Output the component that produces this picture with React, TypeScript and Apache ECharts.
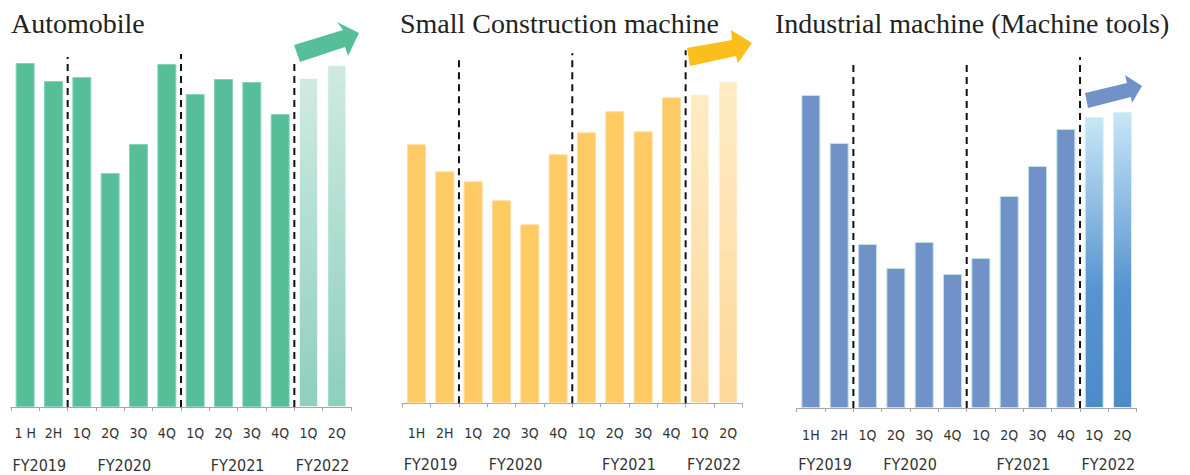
import React, { useEffect, useRef } from "react";
import * as echarts from "echarts";

// ---------- data ----------
const TITLES = ["Automobile", "Small Construction machine", "Industrial machine (Machine tools)"];
const CATS_AUTO = ["1 H", "2H", "1Q", "2Q", "3Q", "4Q", "1Q", "2Q", "3Q", "4Q", "1Q", "2Q"];
const CATS = ["1H", "2H", "1Q", "2Q", "3Q", "4Q", "1Q", "2Q", "3Q", "4Q", "1Q", "2Q"];
const FY_LABELS = ["FY2019", "FY2020", "FY2021", "FY2022"];
const FY_POS = [1, 4, 8, 11];
const DIVIDERS = [2, 6, 10];
const FORECAST_FROM = 10;

const AUTO = [344, 326, 330, 234, 263, 343, 313, 328, 325, 293, 329, 342];
const CONSTR = [259, 232, 222, 203, 179, 249, 271, 292, 272, 306, 309, 322];
const INDUS = [313, 265, 164, 140, 166, 134, 150, 212, 242, 279, 291, 296];

const AUTO_DIV_TOP = [350, 353, 346];
const CONSTR_DIV_TOP = [343, 350, 353];
const INDUS_DIV_TOP = [348, 348, 351];

// ---------- styling ----------
const NARROW = "'Liberation Sans Narrow', 'Arial Narrow', 'DejaVu Sans Condensed', 'Noto Sans CJK JP', sans-serif";

const PANELS = [
  {
    title: TITLES[0], cats: CATS_AUTO, values: AUTO, divTop: AUTO_DIV_TOP,
    left: 11, axisY: 407, labelMargin: 19, fyMargin: 50, titleX: 11,
    color: "#56BF9A", border: "#86D3B8",
    grad: [[0, "#CFEAE3"], [1, "#8DCFBD"]],
    arrow: [[294, 45], [343, 30], [337, 22], [359, 33], [348, 56], [345, 47], [300, 62]],
    arrowColor: "#56BF9A",
  },
  {
    title: TITLES[1], cats: CATS, values: CONSTR, divTop: CONSTR_DIV_TOP,
    left: 402.3, axisY: 403.3, labelMargin: 23, fyMargin: 53, titleX: 400,
    color: "#FECA64", border: "#FEDD9C",
    grad: [[0, "#FEEBC4"], [1, "#FDD89A"]],
    arrow: [[687, 48], [732, 40], [731, 30], [752, 43], [738, 63], [736, 56], [690, 66]],
    arrowColor: "#FBBE1B",
  },
  {
    title: TITLES[2], cats: CATS, values: INDUS, divTop: INDUS_DIV_TOP,
    left: 796.7, axisY: 408, labelMargin: 20, fyMargin: 48, titleX: 775,
    color: "#7192C9", border: "#BDE6E2",
    grad: [[0, "#C8E7F7"], [0.6, "#5693D0"], [1, "#4C8BCA"]],
    arrow: [[1085, 93], [1127, 83], [1125, 75], [1142, 86], [1132, 103], [1131, 97], [1088, 108]],
    arrowColor: "#7192C9",
  },
];

const GRID_W = 340;
const GRID_H = 400;

export default function App() {
  const ref = useRef<HTMLDivElement>(null);

  useEffect(() => {
    if (!ref.current) return;
    const chart = echarts.init(ref.current, undefined, { renderer: "svg" });

    const grid: any[] = [];
    const xAxis: any[] = [];
    const yAxis: any[] = [];
    const series: any[] = [];
    const graphic: any[] = [];

    PANELS.forEach((p, i) => {
      grid.push({ left: p.left, top: p.axisY - GRID_H, width: GRID_W, height: GRID_H });
      xAxis.push({
        type: "category",
        gridIndex: i,
        data: p.cats,
        axisLine: { lineStyle: { color: "#A6A6A6", width: 1 } },
        axisTick: { show: true, length: 4, lineStyle: { color: "#A6A6A6" } },
        axisLabel: {
          interval: 0,
          margin: p.labelMargin,
          fontSize: 14,
          fontFamily: NARROW,
          color: "#333",
        },
      });
      xAxis.push({
        type: "value",
        gridIndex: i,
        min: 0,
        max: 12,
        interval: 1,
        position: "bottom",
        axisLine: { show: false },
        axisTick: { show: false },
        splitLine: { show: false },
        axisLabel: {
          margin: p.fyMargin,
          fontSize: 16,
          fontFamily: NARROW,
          color: "#333",
          formatter: (v: number) => {
            const k = FY_POS.indexOf(Math.round(v));
            return k >= 0 ? FY_LABELS[k] : "";
          },
        },
      });
      yAxis.push({ type: "value", gridIndex: i, min: 0, max: GRID_H, show: false });

      series.push({
        type: "bar",
        xAxisIndex: i * 2,
        yAxisIndex: i,
        barWidth: 19,
        data: p.values.map((v, k) =>
          k >= FORECAST_FROM
            ? {
                value: v,
                itemStyle: {
                  color: new echarts.graphic.LinearGradient(
                    0, 0, 0, 1,
                    p.grad.map(([o, c]) => ({ offset: o as number, color: c as string }))
                  ),
                  borderColor: i === 2 ? "#D6F0F5" : "rgba(255,255,255,0.6)",
                  borderWidth: 1,
                },
              }
            : v
        ),
        itemStyle: { color: p.color, borderColor: p.border, borderWidth: 1 },
        silent: true,
      });

      DIVIDERS.forEach((d, k) => {
        series.push({
          type: "line",
          xAxisIndex: i * 2 + 1,
          yAxisIndex: i,
          data: [[d, 0], [d, p.divTop[k]]],
          symbol: "none",
          silent: true,
          z: 5,
          lineStyle: { color: "#111", width: 2, type: [7, 5] },
        });
      });

      graphic.push({
        type: "text",
        x: p.titleX,
        y: 23,
        style: {
          text: p.title,
          fontSize: 28,
          fontFamily: "Liberation Serif",
          fill: "#222",
          verticalAlign: "middle",
          align: "left",
        },
      });
      graphic.push({
        type: "polygon",
        shape: { points: p.arrow },
        style: { fill: p.arrowColor },
        z: 10,
      });
    });

    chart.setOption({
      animation: false,
      grid,
      xAxis,
      yAxis,
      series,
      graphic,
    });

    return () => chart.dispose();
  }, []);

  return (
    <div
      ref={ref}
      style={{ position: "absolute", left: 0, top: 0, width: 1190, height: 475, background: "#fff" }}
    />
  );
}
